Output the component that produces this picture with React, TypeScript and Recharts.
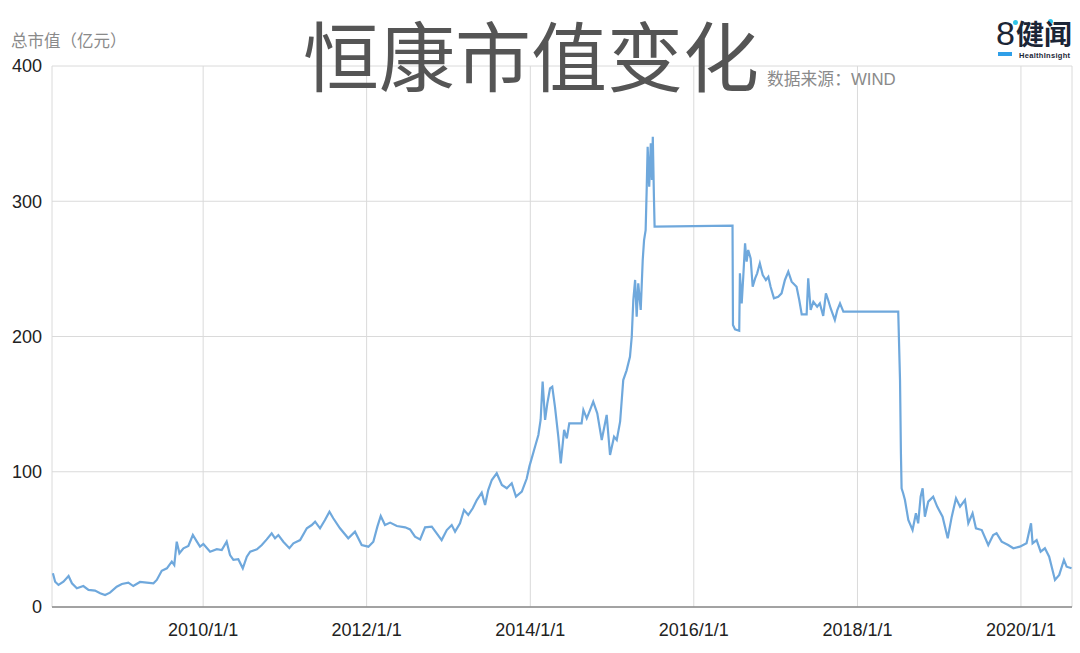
import { LineChart, Line, XAxis, YAxis, CartesianGrid } from "recharts";

// 恒康医疗 总市值（亿元）
const dates = [
  // 2008
  "2008-03-01", "2008-03-11", "2008-03-26", "2008-04-17", "2008-05-10", "2008-05-25", "2008-06-16",
  "2008-07-15", "2008-08-07", "2008-09-05", "2008-09-28", "2008-10-20", "2008-11-11", "2008-12-11",
  // 2009
  "2009-01-03", "2009-02-01", "2009-02-23", "2009-03-25", "2009-04-24", "2009-05-24", "2009-06-08",
  "2009-06-30", "2009-07-23", "2009-08-14", "2009-08-25", "2009-09-05", "2009-09-17", "2009-10-05",
  "2009-10-27", "2009-11-16", "2009-12-04", "2009-12-18",
  // 2010
  "2010-01-02", "2010-02-01", "2010-03-03", "2010-03-25", "2010-04-16", "2010-05-01", "2010-05-16",
  "2010-06-07", "2010-06-27", "2010-07-15", "2010-07-30", "2010-08-29", "2010-09-20", "2010-10-12",
  "2010-11-03", "2010-11-18", "2010-12-03", "2010-12-25",
  // 2011
  "2011-01-21", "2011-02-08", "2011-03-10", "2011-04-09", "2011-05-01", "2011-05-16", "2011-06-07",
  "2011-06-29", "2011-07-19", "2011-08-05", "2011-09-04", "2011-10-11", "2011-11-10", "2011-12-10",
  // 2012
  "2012-01-09", "2012-01-31", "2012-02-18", "2012-03-04", "2012-03-23", "2012-04-15", "2012-05-15",
  "2012-06-21", "2012-07-13", "2012-08-04", "2012-08-27", "2012-09-18", "2012-10-18", "2012-11-09",
  "2012-12-01", "2012-12-24",
  // 2013
  "2013-01-15", "2013-01-30", "2013-02-21", "2013-03-11", "2013-03-30", "2013-04-19", "2013-05-07",
  "2013-05-29", "2013-06-13", "2013-06-27", "2013-07-13", "2013-08-04", "2013-08-27", "2013-09-18",
  "2013-10-10", "2013-10-29", "2013-11-24", "2013-12-16", "2013-12-28",
  // 2014
  "2014-01-22", "2014-02-06", "2014-02-16", "2014-02-25", "2014-03-08", "2014-03-18", "2014-03-30",
  "2014-04-09", "2014-04-21", "2014-05-06", "2014-05-17", "2014-06-01", "2014-06-13", "2014-06-24",
  "2014-08-18", "2014-08-26", "2014-09-10", "2014-09-25", "2014-10-09", "2014-10-27", "2014-11-16",
  "2014-12-08", "2014-12-23",
  // 2015
  "2015-01-10", "2015-01-22", "2015-02-06", "2015-02-20", "2015-03-07", "2015-03-22", "2015-03-30",
  "2015-04-06", "2015-04-14", "2015-04-21", "2015-04-28", "2015-05-09", "2015-05-18", "2015-05-24",
  "2015-05-31", "2015-06-05", "2015-06-09", "2015-06-16", "2015-06-23", "2015-06-28", "2015-07-02",
  "2015-07-07", "2015-07-10",
  // 2016
  "2016-06-22", "2016-06-24", "2016-07-03", "2016-07-22", "2016-07-25", "2016-08-02", "2016-08-09",
  "2016-08-17", "2016-08-24", "2016-08-31", "2016-09-11", "2016-09-20", "2016-10-01", "2016-10-10",
  "2016-10-22", "2016-11-04", "2016-11-18", "2016-11-29", "2016-12-09", "2016-12-24",
  // 2017
  "2017-01-12", "2017-01-27", "2017-02-11", "2017-02-26", "2017-03-13", "2017-04-04", "2017-04-16",
  "2017-04-27", "2017-05-19", "2017-05-26", "2017-06-06", "2017-06-18", "2017-07-05", "2017-07-17",
  "2017-08-01", "2017-08-13", "2017-08-23", "2017-09-03", "2017-09-22", "2017-10-03", "2017-10-15",
  "2017-10-30",
  // 2018
  "2018-07-02", "2018-07-10", "2018-07-14", "2018-07-17", "2018-07-24", "2018-08-01", "2018-08-16",
  "2018-09-04", "2018-09-19", "2018-09-29", "2018-10-10", "2018-10-19", "2018-10-29", "2018-11-13",
  "2018-12-05", "2018-12-23",
  // 2019
  "2019-01-16", "2019-02-08", "2019-02-26", "2019-03-17", "2019-04-04", "2019-04-26", "2019-05-11",
  "2019-05-30", "2019-06-14", "2019-07-10", "2019-08-08", "2019-08-30", "2019-09-14", "2019-10-07",
  "2019-11-05", "2019-11-28", "2019-12-27",
  // 2020
  "2020-01-26", "2020-02-15", "2020-02-22", "2020-03-11", "2020-03-29", "2020-04-17", "2020-05-06",
  "2020-06-01", "2020-06-20", "2020-07-11", "2020-07-23", "2020-08-14",
];

const values = [
  // 2008
  24.9, 18.7, 16.3, 18.7, 22.9, 17.5, 13.8,
  15.5, 12.6, 12.1, 10.1, 8.9, 10.6, 15.0,
  // 2009
  17.0, 18.0, 15.5, 18.5, 18.0, 17.5, 20.0,
  26.8, 28.6, 33.5, 31.0, 48.3, 39.7, 43.4,
  45.1, 53.2, 48.3, 44.6,
  // 2010
  46.6, 40.9, 42.7, 42.1, 48.3, 38.4, 34.8,
  35.3, 28.6, 37.2, 40.9, 42.7, 45.8, 50.0,
  54.5, 50.8, 53.2, 48.3,
  // 2011
  43.5, 47.1, 49.5, 58.2, 60.6, 63.1, 58.2,
  64.3, 70.5, 65.6, 58.2, 50.8, 55.7, 45.8,
  // 2012
  44.6, 48.3, 59.4, 67.3, 60.6, 62.4, 59.9,
  58.9, 57.4, 52.0, 50.0, 58.9, 59.4, 54.5,
  49.5, 56.9,
  // 2013
  60.6, 55.7, 61.9, 71.7, 68.0, 73.0, 79.1,
  84.5, 75.4, 86.5, 93.9, 98.9, 90.2, 87.8,
  91.5, 81.6, 85.3, 95.0, 104.0,
  // 2014
  118.5, 127.2, 138.3, 166.6, 138.3, 150.6, 161.7,
  162.9, 148.1, 125.9, 106.2, 130.9, 124.7, 135.8,
  135.8, 145.7, 139.5, 145.7, 151.8, 143.2, 123.5,
  142.0, 112.4,
  // 2015
  125.9, 123.5, 137.0, 167.8, 175.0, 185.0, 199.9,
  227.0, 241.8, 214.6, 239.3, 219.6, 256.6, 271.3,
  278.7, 310.8, 340.3, 310.8, 342.8, 315.7, 347.7,
  303.4, 281.2,
  // 2016
  282.0, 208.5, 205.3, 204.3, 246.7, 224.5, 244.2,
  268.9, 255.3, 264.0, 257.8, 236.8, 243.0, 246.7,
  254.1, 245.5, 241.8, 244.2, 236.8, 228.2,
  // 2017
  229.4, 231.9, 241.8, 247.9, 240.5, 236.8, 227.0,
  216.4, 216.4, 243.0, 219.6, 225.7, 222.0, 224.5,
  215.2, 231.9, 227.0, 220.9, 212.2, 219.6, 224.5,
  218.4,
  // 2018
  218.4, 167.8, 113.6, 87.8, 84.1, 79.1, 64.3,
  56.9, 69.3, 61.9, 81.6, 87.8, 66.8, 77.9,
  81.6, 74.2,
  // 2019
  66.8, 50.8, 66.8, 80.4, 74.2, 79.1, 61.9,
  69.3, 58.2, 56.9, 45.8, 53.2, 54.5, 48.3,
  45.8, 43.4, 44.6,
  // 2020
  47.1, 61.9, 47.1, 49.5, 40.9, 43.4, 37.2,
  20.0, 23.7, 34.8, 29.8, 28.6,
];

const yTicks = [0, 100, 200, 300, 400];
const xTickDates = ["2010-01-01", "2012-01-01", "2014-01-01", "2016-01-01", "2018-01-01", "2020-01-01"];
const xRange = ["2008-02-26", "2020-08-16"];

const data = dates.map((d, i) => ({ t: Date.parse(d), value: values[i] }));
const xTicks = xTickDates.map((d) => Date.parse(d));
const xDomain = xRange.map((d) => Date.parse(d));

function fmtDate(t: number) {
  const d = new Date(t);
  return `${d.getUTCFullYear()}/${d.getUTCMonth() + 1}/${d.getUTCDate()}`;
}

const sans = "'Liberation Sans', Arial, sans-serif";
const cjk = "'Noto Sans CJK SC', 'Liberation Sans', sans-serif";

export default function App() {
  return (
    <div
      style={{
        position: "absolute",
        left: 0,
        top: 0,
        width: 1080,
        height: 653,
        background: "#fff",
        fontFamily: sans,
      }}
    >
      <LineChart width={1080} height={653} data={data} margin={{ top: 66, right: 8, bottom: 16, left: 0 }}>
        <CartesianGrid stroke="#dadada" strokeWidth={1} />
        <XAxis
          dataKey="t"
          type="number"
          scale="time"
          domain={xDomain}
          ticks={xTicks}
          tickFormatter={fmtDate}
          tickLine={false}
          axisLine={{ stroke: "#8a8a8a", strokeWidth: 1.5 }}
          tick={{ fill: "#222", fontSize: 18 }}
          tickMargin={10}
          height={30}
        />
        <YAxis
          domain={[0, 400]}
          ticks={yTicks}
          width={52}
          tickLine={false}
          axisLine={false}
          tick={{ fill: "#222", fontSize: 18 }}
          tickMargin={4}
        />
        <Line
          dataKey="value"
          type="linear"
          stroke="#6fa8dc"
          strokeWidth={2.2}
          dot={false}
          isAnimationActive={false}
        />
      </LineChart>

      {/* y unit */}
      <div style={{ position: "absolute", left: 11, top: 29, fontFamily: cjk, fontSize: 16.5, color: "#8a8a8a", lineHeight: "22px", whiteSpace: "nowrap" }}>
        总市值（亿元）
      </div>

      {/* title */}
      <div
        style={{
          position: "absolute",
          left: 303,
          top: 0,
          width: 470,
          height: 106,
          fontFamily: cjk,
          fontSize: 76,
          color: "#555",
          lineHeight: "106px",
          whiteSpace: "nowrap",
        }}
      >
        恒康市值变化
      </div>

      {/* source */}
      <div style={{ position: "absolute", left: 767, top: 67, fontFamily: cjk, fontSize: 16.8, color: "#8a8a8a", lineHeight: "22px", whiteSpace: "nowrap" }}>
        数据来源：<span style={{ fontFamily: sans, fontWeight: 300 }}>WIND</span>
      </div>

      {/* logo */}
      <div style={{ position: "absolute", left: 995, top: 14, width: 85, height: 50 }}>
        <div style={{ position: "absolute", left: 1, top: 0, fontFamily: sans, fontSize: 34, color: "#1b2536", lineHeight: "38px" }}>8</div>
        <div style={{ position: "absolute", left: 18, top: 6, width: 5, height: 5, borderRadius: 3, background: "#2fc4e8" }} />
        <div style={{ position: "absolute", left: 53, top: 5, width: 5, height: 5, borderRadius: 3, background: "#2fc4e8" }} />
        <div style={{ position: "absolute", left: 21, top: 5, fontFamily: cjk, fontSize: 28, fontWeight: 700, color: "#1b2536", lineHeight: "28px", whiteSpace: "nowrap" }}>健闻</div>
        <div style={{ position: "absolute", left: 3, top: 38, width: 14, height: 4, background: "#2f9fe8" }} />
        <div style={{ position: "absolute", left: 24, top: 37, fontFamily: sans, fontSize: 7.5, fontWeight: 700, color: "#1b2536", lineHeight: "9px", letterSpacing: 0.3, whiteSpace: "nowrap" }}>HealthInsight</div>
      </div>
    </div>
  );
}
